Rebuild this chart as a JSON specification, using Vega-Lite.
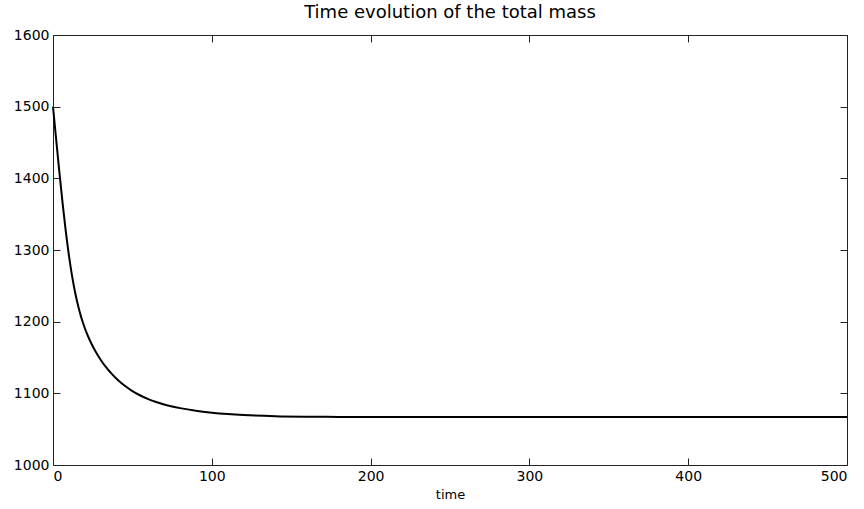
{
  "$schema": "https://vega.github.io/schema/vega-lite/v6.json",
  "autosize": "none",
  "width": 794,
  "height": 430,
  "padding": {"left": 53, "top": 35, "right": 17, "bottom": 44},
  "background": "white",
  "title": {"text": "Time evolution of the total mass", "fontSize": 18, "fontWeight": "normal", "font": "DejaVu Sans", "color": "black", "offset": 6},
  "config": {
    "view": {"stroke": null},
    "axis": {"grid": false, "domainColor": "#222", "tickColor": "#222", "labelColor": "black", "titleColor": "black", "labelFont": "DejaVu Sans", "titleFont": "DejaVu Sans", "labelFontSize": 14, "titleFontSize": 13, "titleFontWeight": "normal", "tickSize": -7, "labelPadding": 11, "format": "d"}
  },
  "data": {"values": [
    {"t": 0, "m": 1500},
    {"t": 2, "m": 1454},
    {"t": 4, "m": 1409},
    {"t": 6, "m": 1366},
    {"t": 8, "m": 1327},
    {"t": 10, "m": 1293},
    {"t": 12, "m": 1264},
    {"t": 14, "m": 1240},
    {"t": 16, "m": 1220.4},
    {"t": 18, "m": 1204.4},
    {"t": 20, "m": 1191.2},
    {"t": 22, "m": 1180},
    {"t": 24, "m": 1170.2},
    {"t": 27, "m": 1157.6},
    {"t": 30, "m": 1146.8},
    {"t": 33, "m": 1137.5},
    {"t": 37, "m": 1127.1},
    {"t": 41, "m": 1118.3},
    {"t": 45, "m": 1110.9},
    {"t": 50, "m": 1103.2},
    {"t": 55, "m": 1097},
    {"t": 60, "m": 1092},
    {"t": 65, "m": 1087.9},
    {"t": 70, "m": 1084.5},
    {"t": 75, "m": 1081.7},
    {"t": 80, "m": 1079.35},
    {"t": 90, "m": 1075.65},
    {"t": 100, "m": 1073.05},
    {"t": 110, "m": 1071.15},
    {"t": 120, "m": 1069.75},
    {"t": 140, "m": 1068.15},
    {"t": 160, "m": 1067.45},
    {"t": 180, "m": 1067.15},
    {"t": 200, "m": 1067.03},
    {"t": 250, "m": 1067},
    {"t": 300, "m": 1067},
    {"t": 400, "m": 1067},
    {"t": 500, "m": 1067}
  ]},
  "resolve": {"axis": {"x": "independent", "y": "independent"}},
  "layer": [
    {
      "mark": {"type": "line", "color": "black", "strokeWidth": 2, "interpolate": "monotone"},
      "encoding": {
        "x": {"field": "t", "type": "quantitative", "scale": {"domain": [0, 500], "nice": false}, "axis": {"orient": "bottom", "title": "time", "values": [0, 100, 200, 300, 400, 500], "titlePadding": 5}},
        "y": {"field": "m", "type": "quantitative", "scale": {"domain": [1000, 1600], "nice": false, "zero": false}, "axis": {"orient": "left", "title": null, "values": [1000, 1100, 1200, 1300, 1400, 1500, 1600], "labelPadding": 11}}
      }
    },
    {
      "mark": {"type": "line", "strokeOpacity": 0},
      "encoding": {
        "x": {"field": "t", "type": "quantitative", "scale": {"domain": [0, 500], "nice": false}, "axis": {"orient": "top", "title": null, "labels": false, "values": [0, 100, 200, 300, 400, 500]}},
        "y": {"field": "m", "type": "quantitative", "scale": {"domain": [1000, 1600], "nice": false, "zero": false}, "axis": {"orient": "right", "title": null, "labels": false, "values": [1000, 1100, 1200, 1300, 1400, 1500, 1600]}}
      }
    }
  ]
}
